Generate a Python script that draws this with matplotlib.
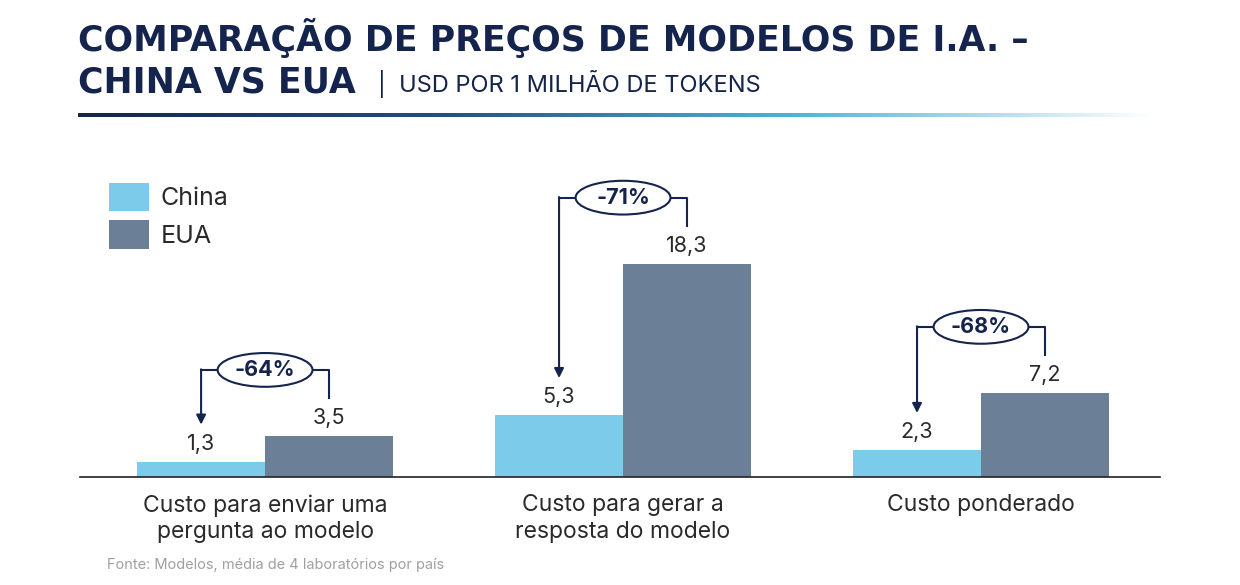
import matplotlib
matplotlib.use('Agg')
import matplotlib.pyplot as plt
import numpy as np
from matplotlib.patches import Ellipse
from matplotlib.colors import LinearSegmentedColormap

categories = ["Custo para enviar uma\npergunta ao modelo",
              "Custo para gerar a\nresposta do modelo",
              "Custo ponderado"]
china = [1.3, 5.3, 2.3]
eua = [3.5, 18.3, 7.2]
diffs = ["-64%", "-71%", "-68%"]

NAVY = '#15244d'
C_CHINA = '#7ccbea'
C_EUA = '#6b7f96'
TXT = '#2a2a2a'

W, H = 1240, 585
fig = plt.figure(figsize=(W / 100, H / 100), dpi=100)
plt.rcParams['font.family'] = ['Inter', 'DejaVu Sans']

# title block
fig.text(78 / W, 1 - 38 / H, "COMPARAÇÃO DE PREÇOS DE MODELOS DE I.A. –",
         fontsize=25, fontweight='bold', color=NAVY, va='center', family='DejaVu Sans')
fig.text(78 / W, 1 - 83 / H, "CHINA VS EUA", fontsize=25, fontweight='bold',
         color=NAVY, va='center', family='DejaVu Sans')
fig.text(378 / W, 1 - 84 / H, "|  USD POR 1 MILHÃO DE TOKENS", fontsize=17,
         color=NAVY, va='center')

# gradient rule under title
gax = fig.add_axes([78 / W, 1 - 117 / H, 1075 / W, 4 / H])
cmap = LinearSegmentedColormap.from_list('g', [NAVY, '#1f4f86', '#4fb3dc', '#ffffff'])
gax.imshow(np.linspace(0, 1, 256)[None, :], aspect='auto', cmap=cmap)
gax.axis('off')

# main axes: baseline at y=477 px, 18.3 reaches y=264 px
ax = fig.add_axes([80 / W, 1 - 477 / H, 1080 / W, 213 / H])
ax.set_xlim(-0.517, 2.5)
ax.set_ylim(0, 18.3)
for s in ['top', 'right', 'left']:
    ax.spines[s].set_visible(False)
ax.spines['bottom'].set_color('#222222')
ax.spines['bottom'].set_linewidth(1.2)
ax.set_yticks([])
ax.set_xticks([])

x = np.arange(len(categories))
bw = 0.3575
ax.bar(x - bw / 2, china, bw, color=C_CHINA, label='China', clip_on=False)
ax.bar(x + bw / 2, eua, bw, color=C_EUA, label='EUA', clip_on=False)

for i in range(len(categories)):
    for xv, v in ((x[i] - bw / 2, china[i]), (x[i] + bw / 2, eua[i])):
        ax.text(xv, v + 0.7, f"{v:.1f}".replace('.', ','), ha='center', va='bottom',
                fontsize=15.5, color=TXT, clip_on=False)
    ax.text(x[i], -1.5, categories[i], ha='center', va='top', fontsize=16.5,
            color=TXT, linespacing=1.25, clip_on=False)
    top = eua[i] + 5.7
    xc, xe = x[i] - bw / 2, x[i] + bw / 2
    ax.plot([xe, xe, xc], [eua[i] + 3.3, top, top], color=NAVY, lw=1.5, clip_on=False)
    ax.annotate('', xy=(xc, china[i] + 3.2), xytext=(xc, top + 0.05),
                arrowprops=dict(arrowstyle='-|>', color=NAVY, lw=1.5,
                                mutation_scale=14, shrinkA=0, shrinkB=0),
                annotation_clip=False)
    ax.add_patch(Ellipse((x[i], top), 0.265, 2.9, facecolor='white',
                         edgecolor=NAVY, lw=1.5, clip_on=False, zorder=5))
    ax.text(x[i], top, diffs[i], ha='center', va='center', fontsize=15.5,
            fontweight='bold', color=NAVY, zorder=6, clip_on=False)

fig.legend(loc='upper left', bbox_to_anchor=(86 / W, 1 - 160 / H), frameon=False,
           fontsize=18, handlelength=1.6, handleheight=1.4, labelspacing=0.35,
           handletextpad=0.5, labelcolor=TXT)

fig.text(107 / W, 1 - 565 / H, "Fonte: Modelos, média de 4 laboratórios por país",
         fontsize=10.5, color='#a0a0a0', va='center')

fig.savefig('out.png', dpi=100)
